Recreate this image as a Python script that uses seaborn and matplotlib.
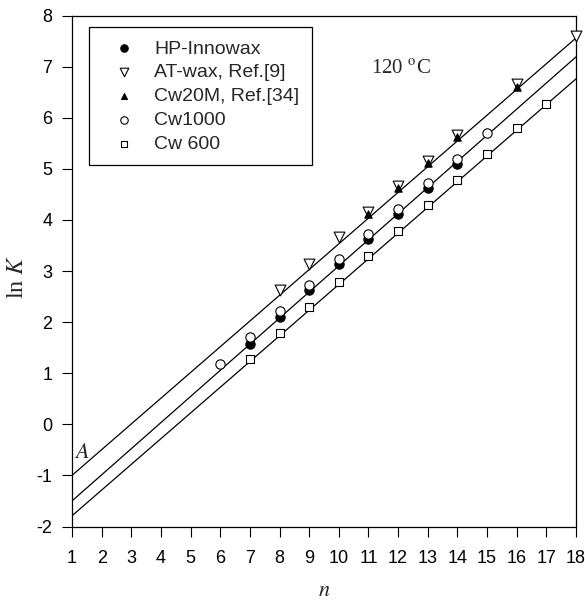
import matplotlib
matplotlib.use("Agg")
import matplotlib.pyplot as plt
import seaborn as sns
import pandas as pd

# ---- data ----
hp_n = [7, 8, 9, 10, 11, 12, 13, 14]
hp_lnk = [1.58, 2.10, 2.62, 3.13, 3.63, 4.12, 4.63, 5.10]

at_n = [8, 9, 10, 11, 12, 13, 14, 16, 18]
at_lnk = [2.63, 3.14, 3.66, 4.16, 4.66, 5.16, 5.66, 6.65, 7.59]

cw20m_n = [11, 12, 13, 14, 16]
cw20m_lnk = [4.12, 4.62, 5.12, 5.62, 6.60]

cw1000_n = [6, 7, 8, 9, 10, 11, 12, 13, 14, 15]
cw1000_lnk = [1.18, 1.70, 2.21, 2.72, 3.23, 3.73, 4.22, 4.73, 5.20, 5.70]

cw600_n = [7, 8, 9, 10, 11, 12, 13, 14, 15, 16, 17]
cw600_lnk = [1.27, 1.78, 2.29, 2.79, 3.29, 3.79, 4.30, 4.79, 5.29, 5.80, 6.27]

# fitted straight lines (value at n=1 and n=18)
fit_n = [1, 18]
fit_top = [-1.00, 7.56]
fit_mid = [-1.50, 7.19]
fit_bot = [-1.79, 6.76]

x_ticks = list(range(1, 19))
y_ticks = list(range(-2, 9))

# ---- style ----
sns.set_style("ticks")
plt.rcParams["font.family"] = ["Liberation Sans", "DejaVu Sans"]
plt.rcParams["mathtext.fontset"] = "stix"
plt.rcParams["axes.unicode_minus"] = False

fig = plt.figure(figsize=(5.85, 6.05), dpi=100)
ax = fig.add_axes([72 / 585, 1 - 526.5 / 605, 504 / 585, 511 / 605])

for yvals in (fit_top, fit_mid, fit_bot):
    sns.lineplot(x=fit_n, y=yvals, ax=ax, color="black", linewidth=0.9,
                 legend=False, zorder=1)

series = [
    ("HP-Innowax", hp_n, hp_lnk, "o", "black", 45),
    ("AT-wax, Ref.[9]", at_n, at_lnk, "v", "white", 60),
    ("Cw20M, Ref.[34]", cw20m_n, cw20m_lnk, "^", "black", 28),
    ("Cw1000", cw1000_n, cw1000_lnk, "o", "white", 45),
    ("Cw 600", cw600_n, cw600_lnk, "s", "white", 34),
]
for i, (lab, xs, ys, mk, fc, s) in enumerate(series):
    df = pd.DataFrame({"n": xs, "lnK": ys})
    sns.scatterplot(data=df, x="n", y="lnK", ax=ax, marker=mk, s=s,
                    facecolor=fc, edgecolor="black", linewidth=0.8,
                    label=lab, zorder=3 + i, clip_on=False)

ax.set_xlim(1, 18)
ax.set_ylim(-2, 8)
ax.set_xticks(x_ticks)
ax.set_yticks(y_ticks)
ax.tick_params(direction="out", length=7.2, width=0.8, labelsize=13,
               colors="black")
ax.tick_params(axis="x", pad=10)
ax.tick_params(axis="y", pad=7)
for sp in ax.spines.values():
    sp.set_visible(True)
    sp.set_linewidth(0.9)
    sp.set_color("black")

ax.set_xlabel("$n$", fontsize=16, family="Liberation Serif")
ax.set_ylabel("ln $K$", fontsize=17.5, family="Liberation Serif")
ax.xaxis.set_label_coords(0.5, -0.108)
ax.yaxis.set_label_coords(-0.088, 0.488)

ax.text(0.593, 0.895, "120 $^{\\mathrm{o}}$C", transform=ax.transAxes,
        fontsize=15, family="Liberation Serif", ha="left", va="center")
ax.text(0.003, 0.145, "$A$", transform=ax.transAxes, fontsize=16,
        ha="left", va="center")

leg = ax.legend(loc="upper left", bbox_to_anchor=(0.034, 0.977),
                borderaxespad=0, frameon=True, fancybox=False,
                edgecolor="black", fontsize=14, labelspacing=0.32,
                handlelength=2.3, handletextpad=0.39, borderpad=0.65,
                markerscale=0.8)
leg.get_frame().set_linewidth(0.9)
leg.get_frame().set_alpha(1)

fig.savefig("out.png", dpi=100)
